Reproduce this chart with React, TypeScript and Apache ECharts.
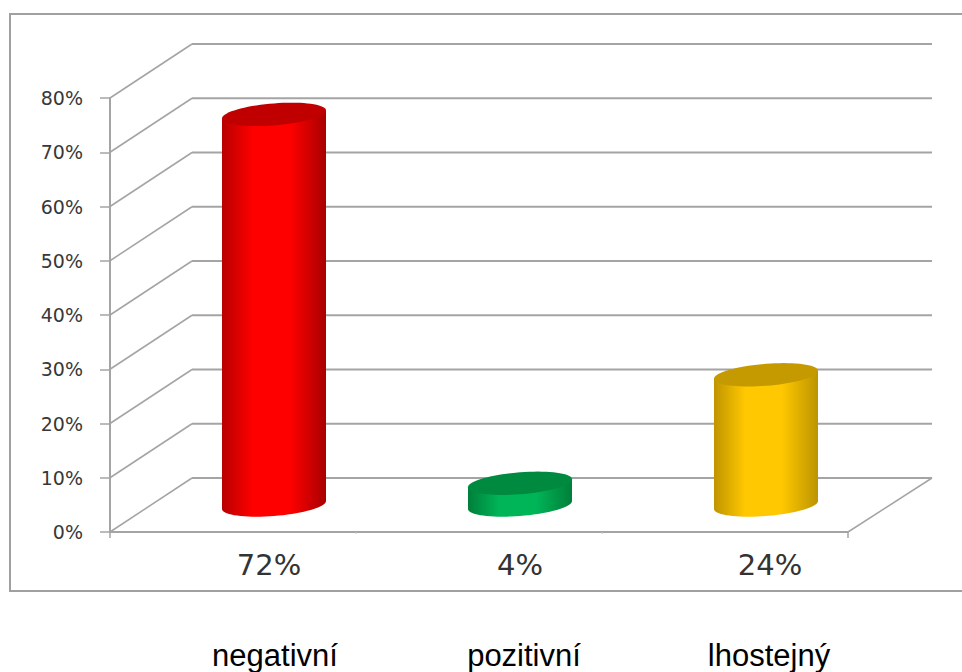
import React, { useEffect, useRef } from "react";
import * as echarts from "echarts";

const categories = ["72%", "4%", "24%"];
const shares = [72, 4, 24];
const yTicks = [0, 10, 20, 30, 40, 50, 60, 70, 80];
const captions = ["negativní", "pozitivní", "lhostejný"];

const sideColors = [
  ["#b80000", "#ff0000", "#a80000"],
  ["#007f3a", "#00b558", "#007f3a"],
  ["#c09400", "#ffc800", "#bc9400"],
];
const capColors = ["#c00000", "#008a40", "#c49a00"];
const captionX = [275, 524, 769];

// Oblique projection of the chart box: depth shifts a point right and up.
const DEPTH_X = 82;
const DEPTH_Y = -54;
const RADIUS_X = 52;
const RADIUS_Y = 11;
const TILT = 4;
const GRID_COLOR = "#a4a4a4";

function rimPoint(cx: number, cy: number, t: number): number[] {
  const c = Math.cos(t);
  return [cx + RADIUS_X * c, cy - TILT * c - RADIUS_Y * Math.sin(t)];
}

function ellipsePoints(cx: number, cy: number): number[][] {
  const pts: number[][] = [];
  for (let i = 0; i < 72; i++) pts.push(rimPoint(cx, cy, (i / 72) * Math.PI * 2));
  return pts;
}

function sidePoints(cx: number, topY: number, baseY: number): number[][] {
  const pts: number[][] = [rimPoint(cx, topY, Math.PI)];
  for (let i = 0; i <= 36; i++) pts.push(rimPoint(cx, baseY, Math.PI + (i / 36) * Math.PI));
  pts.push(rimPoint(cx, topY, 0));
  return pts;
}

export default function App() {
  const ref = useRef<HTMLDivElement>(null);

  useEffect(() => {
    if (!ref.current) return;
    const chart = echarts.init(ref.current, undefined, { renderer: "svg" });
    const wallRight = 848 + DEPTH_X + 2;
    const xLabelBase = {
      fontFamily: "DejaVu Sans",
      fontSize: 29,
      color: "#333333",
    };

    chart.setOption({
      animation: false,
      backgroundColor: "#ffffff",
      grid: { left: 110, right: 114, top: 98, height: 434, containLabel: false },
      xAxis: {
        type: "category",
        data: categories,
        axisLine: { lineStyle: { color: GRID_COLOR, width: 2 } },
        axisTick: { show: false },
        axisLabel: {
          margin: 18,
          formatter: (v: string, i: number) => `{s${i}|${v}}`,
          rich: {
            s0: { ...xLabelBase, padding: [0, 0, 0, 72] },
            s1: { ...xLabelBase, padding: [0, 0, 0, 82] },
            s2: { ...xLabelBase, padding: [0, 0, 0, 90] },
          },
        },
      },
      yAxis: {
        type: "value",
        min: 0,
        max: 80,
        interval: 10,
        splitLine: { show: false },
        axisLine: { show: true, lineStyle: { color: GRID_COLOR, width: 2 } },
        axisTick: { show: true, length: 10, lineStyle: { color: GRID_COLOR, width: 1.5 } },
        axisLabel: {
          margin: 27,
          formatter: "{value}%",
          fontFamily: "DejaVu Sans",
          fontSize: 19,
          color: "#383838",
          padding: [4, 0, 0, 0],
        },
      },
      graphic: [
        {
          // The frame runs off the right side of the page.
          type: "rect",
          z: -1,
          shape: { x: 10, y: 14, width: 970, height: 577 },
          style: { fill: "none", stroke: "#a0a0a0", lineWidth: 2 },
        },
        ...captions.map((text, i) => ({
          type: "text",
          x: captionX[i],
          y: 655,
          style: {
            text,
            fontFamily: "Liberation Sans",
            fontSize: 31,
            fill: "#000000",
            align: "center",
            verticalAlign: "middle",
          },
        })),
      ],
      series: [
        {
          // Side wall lines, back wall lines and the floor's right edge.
          type: "custom",
          coordinateSystem: "cartesian2d",
          z: 1,
          data: yTicks.map((v) => [categories[0], v]),
          clip: false,
          renderItem: (_p: any, api: any) => {
            const y = api.coord([categories[0], api.value(1)])[1];
            const isFloor = api.value(1) === 0;
            const back = y + DEPTH_Y;
            const line = (pts: number[][], w: number, color = GRID_COLOR) => ({
              type: "polyline",
              shape: { points: pts },
              style: { fill: "none", stroke: color, lineWidth: w },
            });
            const children: any[] = [
              line([[110, y], [110 + DEPTH_X, back]], 1.5),
              line([[110 + DEPTH_X, back], [wallRight, back]], 2),
            ];
            if (isFloor) {
              children.push(line([[848, y], [wallRight, back]], 1.5));
              children.push(line([[110, y], [110, y + 6]], 1.5));
              children.push(line([[848, y], [848, y + 6]], 1.5));
              children.push(line([[356, y], [356, y + 2]], 1, "#c8c8c8"));
              children.push(line([[602, y], [602, y + 2]], 1, "#c8c8c8"));
            }
            return { type: "group", children };
          },
        },
        {
          // Cylinders stand in the middle of the box's depth.
          type: "custom",
          coordinateSystem: "cartesian2d",
          z: 2,
          clip: false,
          data: categories.map((c, i) => [c, shares[i]]),
          encode: { x: 0, y: 1 },
          renderItem: (p: any, api: any) => {
            const i = p.dataIndex;
            const top = api.coord([api.value(0), api.value(1)]);
            const base = api.coord([api.value(0), 0]);
            const cx = top[0] + DEPTH_X / 2;
            const topY = top[1] + DEPTH_Y / 2;
            const baseY = base[1] + DEPTH_Y / 2;
            const [edge, mid, edge2] = sideColors[i];
            return {
              type: "group",
              children: [
                {
                  type: "polygon",
                  shape: { points: sidePoints(cx, topY, baseY) },
                  style: {
                    fill: new echarts.graphic.LinearGradient(0, 0, 1, 0, [
                      { offset: 0, color: edge },
                      { offset: 0.3, color: mid },
                      { offset: 0.65, color: mid },
                      { offset: 1, color: edge2 },
                    ]),
                  },
                },
                {
                  type: "polygon",
                  shape: { points: ellipsePoints(cx, topY) },
                  style: { fill: capColors[i] },
                },
              ],
            };
          },
        },
      ],
    });
    return () => chart.dispose();
  }, []);

  return (
    <div
      ref={ref}
      style={{ position: "fixed", left: 0, top: 0, width: 962, height: 672 }}
    />
  );
}
